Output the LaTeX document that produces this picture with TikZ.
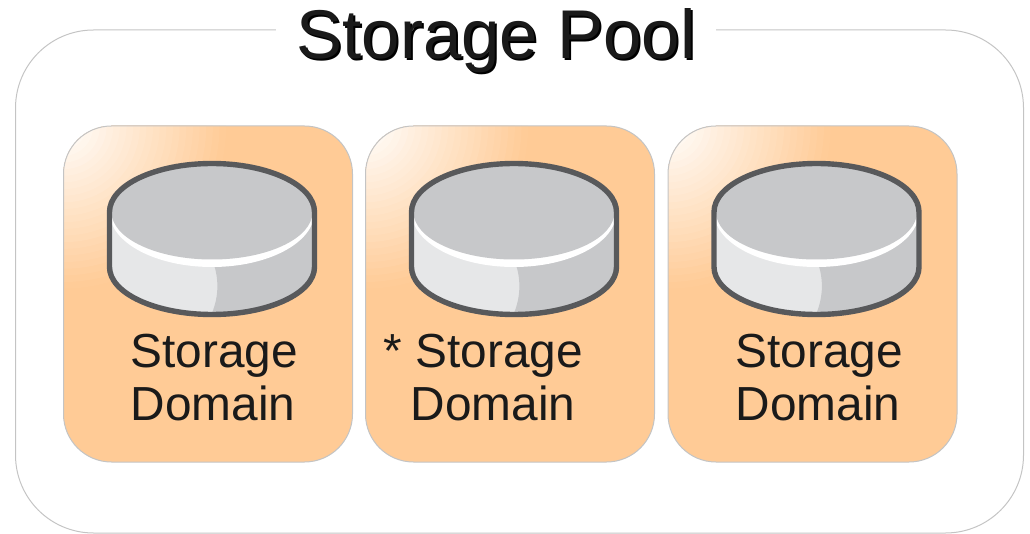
\documentclass[tikz,border=0pt]{standalone}
\usepackage{fontspec}
\setmainfont{Liberation Sans}
\definecolor{dom}{HTML}{FFCB96}
\definecolor{edge}{HTML}{C4C4C4}
\definecolor{ink}{HTML}{1A1A1A}
\definecolor{discdark}{HTML}{C7C8CA}
\definecolor{disclight}{HTML}{E6E7E8}
\definecolor{discline}{HTML}{58595B}
\tikzset{
  poolbox/.style={draw=edge,line width=1pt,rounded corners=78pt,minimum width=1008pt,minimum height=503pt,inner sep=0pt},
  pooltitle/.style={fill=white,inner sep=0pt,minimum width=440pt,minimum height=60pt,text=ink},
  dombox/.style={draw=edge,line width=1pt,fill=dom,rounded corners=48pt,minimum width=289pt,minimum height=336pt,inner sep=0pt,
    path picture={
      \foreach \pct in {98,94,...,2}{
        \pgfmathsetmacro{\rad}{1.66*\pct}
        \fill[dom!\pct!white] (path picture bounding box.north west) circle (\rad pt);
      }
    }},
  domlabel/.style={anchor=base west,inner sep=0pt,align=left,text=ink,font=\fontsize{47.8pt}{53pt}\selectfont},
  pics/disc/.style={code={
    \begin{scope}
      \clip (-102.5,0) -- (-102.5,-55) arc[start angle=180,end angle=360,x radius=102.5,y radius=47.5] -- (102.5,0) arc[start angle=0,end angle=180,x radius=102.5,y radius=48.5] -- cycle;
      \fill[disclight] (-110,10) rectangle (110,-110);
      \fill[discdark] (1,-50) .. controls (7,-66) and (7,-84) .. (0,-101) -- (110,-110) -- (110,0) -- (1,0) -- cycle;
      \fill[white] (0,0) ellipse[x radius=102.5,y radius=55];
    \end{scope}
    \fill[discdark] (0,0) ellipse[x radius=100.5,y radius=47.5];
    \draw[discline,line width=5.4pt] (-102.5,0) -- (-102.5,-55) arc[start angle=180,end angle=360,x radius=102.5,y radius=47.5] -- (102.5,0) arc[start angle=0,end angle=180,x radius=102.5,y radius=48.5] -- cycle;
  }}
}
\begin{document}
\begin{tikzpicture}[x=1pt,y=1pt]
\useasboundingbox (0,0) rectangle (1030,533);
\node[poolbox] (pool) at (519.5,251.5) {};
\node[pooltitle] (title) at (496,497) {};
\node[text=black,font=\fontsize{69pt}{70pt}\selectfont,inner sep=0pt,anchor=base] (titleshadow) at (498,472.5) {Storage Pool};
\node[text=ink,font=\fontsize{69pt}{70pt}\selectfont,inner sep=0pt,anchor=base] (titletext) at (496,474.5) {Storage Pool};
\node[dombox] (d1) at (208,239) {};
\node[dombox] (d2) at (510,239) {};
\node[dombox] (d3) at (812.5,239) {};
\pic at (212,321) {disc};
\pic at (514,321) {disc};
\pic at (816.5,321) {disc};
\node[domlabel] (l1) at (130.5,113) {Storage\\Domain};
\node[domlabel] (l2) at (383.5,113) {* Storage\\\hspace*{27pt}Domain};
\node[domlabel] (l3) at (735.5,113) {Storage\\Domain};
\end{tikzpicture}
\end{document}
